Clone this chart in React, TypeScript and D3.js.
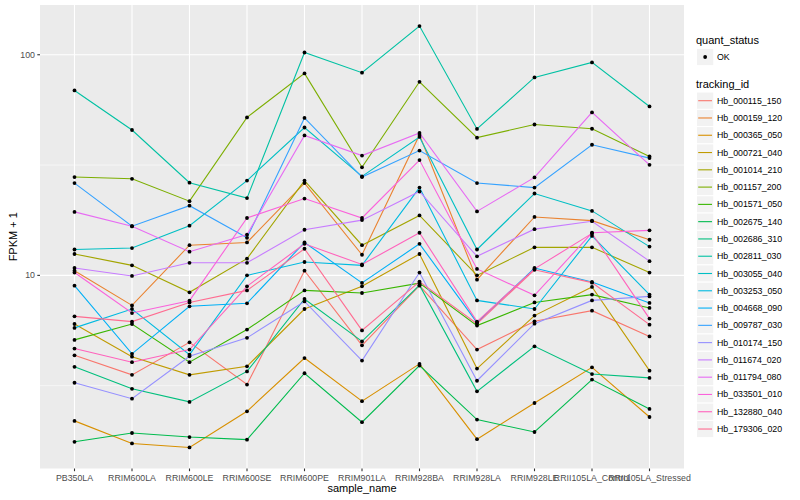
import React from 'react';
import * as d3 from 'd3';

// ---------------------------------------------------------------------------
// Data (FPKM + 1, one value per sample)
// ---------------------------------------------------------------------------

const samples = [
  'PB350LA', 'RRIM600LA', 'RRIM600LE', 'RRIM600SE', 'RRIM600PE', 'RRIM901LA',
  'RRIM928BA', 'RRIM928LA', 'RRIM928LE', 'RRII105LA_Control', 'RRII105LA_Stressed',
];

const hb000115_150 = [4.34, 3.54, 4.97, 3.2, 10.5, 4.82, 8.98, 4.61, 6.19, 6.92, 5.29];
const hb000159_120 = [10.5, 7.31, 13.7, 14.1, 26.2, 12.4, 43.3, 9.56, 18.4, 17.7, 14.5];
const hb000365_050 = [2.19, 1.73, 1.66, 2.42, 4.22, 2.69, 3.97, 1.81, 2.64, 3.83, 2.28];
const hb000721_040 = [6.02, 4.28, 3.54, 3.87, 7.04, 8.92, 12.5, 3.78, 6.57, 8.86, 3.7];
const hb001014_210 = [12.5, 11.1, 8.38, 11.9, 26.9, 13.7, 18.7, 10.0, 13.4, 13.4, 10.3];
const hb001157_200 = [27.9, 27.4, 21.7, 52.0, 82.3, 30.9, 75.4, 42.1, 48.3, 46.2, 34.6];
const hb001571_050 = [5.1, 6.02, 4.04, 5.68, 8.55, 8.32, 9.22, 5.92, 7.54, 8.18, 7.12];
const hb002675_140 = [1.76, 1.93, 1.85, 1.8, 3.6, 2.16, 3.9, 2.22, 1.95, 3.37, 2.48];
const hb002686_310 = [3.85, 3.06, 2.67, 3.67, 7.82, 5.02, 9.03, 2.98, 4.77, 3.57, 3.43];
const hb002811_030 = [68.9, 45.6, 26.3, 22.4, 102.4, 82.9, 134.9, 46.1, 78.9, 92.3, 58.3];
const hb003055_040 = [13.1, 13.3, 16.8, 26.9, 46.8, 28.1, 42.4, 13.1, 23.5, 19.6, 13.5];
const hb003253_050 = [5.78, 7.04, 4.37, 10.0, 11.5, 11.1, 25.0, 7.7, 7.04, 15.1, 8.18];
const hb004668_090 = [8.98, 4.41, 7.24, 7.47, 14.1, 9.24, 13.9, 6.11, 10.8, 9.33, 7.5];
const hb009787_030 = [26.2, 16.7, 20.7, 14.8, 51.7, 27.9, 36.8, 26.2, 25.0, 39.1, 34.0];
const hb010174_150 = [3.26, 2.76, 4.3, 5.21, 7.62, 4.11, 10.3, 3.33, 6.04, 7.7, 8.03];
const hb011674_020 = [10.8, 9.94, 11.4, 11.4, 16.1, 17.8, 24.0, 12.2, 16.2, 17.6, 11.6];
const hb011794_080 = [19.4, 16.7, 12.8, 15.3, 43.1, 34.9, 44.2, 19.5, 27.8, 54.8, 31.7];
const hb033501_010 = [10.3, 6.75, 7.68, 18.2, 22.3, 18.2, 33.3, 10.7, 8.12, 15.6, 16.0];
const hb132880_040 = [4.66, 4.04, 4.61, 8.92, 13.9, 11.2, 15.6, 6.17, 10.7, 15.5, 6.37];
const hb179306_020 = [6.52, 6.17, 7.54, 8.55, 13.2, 5.63, 9.37, 6.04, 10.6, 9.27, 5.98];

const trackingIds = [
  'Hb_000115_150', 'Hb_000159_120', 'Hb_000365_050', 'Hb_000721_040', 'Hb_001014_210',
  'Hb_001157_200', 'Hb_001571_050', 'Hb_002675_140', 'Hb_002686_310', 'Hb_002811_030',
  'Hb_003055_040', 'Hb_003253_050', 'Hb_004668_090', 'Hb_009787_030', 'Hb_010174_150',
  'Hb_011674_020', 'Hb_011794_080', 'Hb_033501_010', 'Hb_132880_040', 'Hb_179306_020',
];

const seriesValues = [
  hb000115_150, hb000159_120, hb000365_050, hb000721_040, hb001014_210,
  hb001157_200, hb001571_050, hb002675_140, hb002686_310, hb002811_030,
  hb003055_040, hb003253_050, hb004668_090, hb009787_030, hb010174_150,
  hb011674_020, hb011794_080, hb033501_010, hb132880_040, hb179306_020,
];

const yBreaks = [10, 100];
const quantStatus = ['OK'];

// ggplot2 default hue palette for 20 levels
const COLORS = [
  '#F8766D', '#EA8331', '#D89000', '#C09B00', '#A3A500', '#7CAE00', '#39B600',
  '#00BB4E', '#00BF7D', '#00C1A3', '#00BFC4', '#00BAE0', '#00B0F6', '#35A2FF',
  '#9590FF', '#C77CFF', '#E76BF3', '#FA62DB', '#FF62BC', '#FF6C91',
];

const FONT = '"Liberation Sans", Arial, Helvetica, sans-serif';
const PANEL = { left: 40, right: 684, top: 5, bottom: 468.5 };

export default function App() {
  const series = trackingIds.map((id, i) => ({
    id,
    color: COLORS[i],
    points: samples.map((s, j) => ({ sample: s, value: seriesValues[i][j] })),
  }));

  const x = d3.scalePoint<string>()
    .domain(samples)
    .range([PANEL.left, PANEL.right])
    .padding(0.6);

  // log scale with ggplot's 5% expansion in transformed space
  const all = seriesValues.flat();
  const lo = Math.log10(d3.min(all) as number);
  const hi = Math.log10(d3.max(all) as number);
  const pad = (hi - lo) * 0.05;
  const y = d3.scaleLog()
    .domain([10 ** (lo - pad), 10 ** (hi + pad)])
    .range([PANEL.bottom, PANEL.top]);

  const minorBreaks = [1, 10, 100, 1000]
    .slice(0, -1)
    .map((b) => b * Math.sqrt(10))
    .filter((v) => y(v) > PANEL.top && y(v) < PANEL.bottom);

  const line = d3.line<{ sample: string; value: number }>()
    .x((d) => x(d.sample) as number)
    .y((d) => y(d.value));

  const legendX = 696;
  const keyH = 17.28;
  const firstKey = 100.7;

  return (
    <svg
      width={800}
      height={500}
      style={{ position: 'absolute', left: 0, top: 0, background: '#fff' }}
      fontFamily={FONT}
    >
      {/* panel */}
      <rect
        x={PANEL.left}
        y={PANEL.top}
        width={PANEL.right - PANEL.left}
        height={PANEL.bottom - PANEL.top}
        fill="#EBEBEB"
      />
      {minorBreaks.map((v) => (
        <line key={`mn${v}`} x1={PANEL.left} x2={PANEL.right} y1={y(v)} y2={y(v)} stroke="#fff" strokeWidth={0.55} />
      ))}
      {yBreaks.map((v) => (
        <line key={`mj${v}`} x1={PANEL.left} x2={PANEL.right} y1={y(v)} y2={y(v)} stroke="#fff" strokeWidth={1.1} />
      ))}
      {samples.map((s) => (
        <line key={`vx${s}`} x1={x(s)} x2={x(s)} y1={PANEL.top} y2={PANEL.bottom} stroke="#fff" strokeWidth={1.1} />
      ))}

      {/* lines */}
      {series.map((s) => (
        <path key={s.id} d={line(s.points) || ''} fill="none" stroke={s.color} strokeWidth={1.1} />
      ))}

      {/* points */}
      {series.map((s) =>
        s.points.map((p) => (
          <circle key={`${s.id}-${p.sample}`} cx={x(p.sample)} cy={y(p.value)} r={1.9} fill="#000" />
        ))
      )}

      {/* y axis */}
      {yBreaks.map((v) => (
        <g key={`yt${v}`}>
          <line x1={PANEL.left - 2.7} x2={PANEL.left} y1={y(v)} y2={y(v)} stroke="#333" strokeWidth={1.1} />
          <text
            x={PANEL.left - 5}
            y={y(v)}
            textAnchor="end"
            dominantBaseline="central"
            fontSize={8.8}
            fill="#4D4D4D"
          >
            {v}
          </text>
        </g>
      ))}
      <text
        transform={`translate(13,${(PANEL.top + PANEL.bottom) / 2}) rotate(-90)`}
        textAnchor="middle"
        dominantBaseline="central"
        fontSize={11}
        fill="#000"
      >
        FPKM + 1
      </text>

      {/* x axis */}
      {samples.map((s) => (
        <g key={`xt${s}`}>
          <line x1={x(s)} x2={x(s)} y1={PANEL.bottom} y2={PANEL.bottom + 2.7} stroke="#333" strokeWidth={1.1} />
          <text x={x(s)} y={PANEL.bottom + 12} textAnchor="middle" fontSize={8.8} fill="#4D4D4D">
            {s}
          </text>
        </g>
      ))}
      <text x={(PANEL.left + PANEL.right) / 2} y={492} textAnchor="middle" fontSize={11} fill="#000">
        sample_name
      </text>

      {/* legend: quant_status */}
      <text x={legendX} y={44} fontSize={11} fill="#000">quant_status</text>
      {quantStatus.map((q) => (
        <g key={q}>
          <rect x={legendX + 0.5} y={57 - keyH / 2} width={keyH} height={keyH} fill="#F2F2F2" stroke="#fff" strokeWidth={1} />
          <circle cx={legendX + 0.5 + keyH / 2} cy={57} r={1.9} fill="#000" />
          <text x={legendX + 21} y={57} dominantBaseline="central" fontSize={8.8} fill="#000">{q}</text>
        </g>
      ))}

      {/* legend: tracking_id */}
      <text x={legendX} y={87.5} fontSize={11} fill="#000">tracking_id</text>
      {series.map((s, i) => {
        const cy = firstKey + i * keyH;
        return (
          <g key={`lg${s.id}`}>
            <rect x={legendX + 0.5} y={cy - keyH / 2} width={keyH} height={keyH} fill="#F2F2F2" stroke="#fff" strokeWidth={1} />
            <line x1={legendX + 2.2} x2={legendX + 16} y1={cy} y2={cy} stroke={s.color} strokeWidth={1.1} />
            <text x={legendX + 21} y={cy} dominantBaseline="central" fontSize={8.8} fill="#000">
              {s.id}
            </text>
          </g>
        );
      })}
    </svg>
  );
}
